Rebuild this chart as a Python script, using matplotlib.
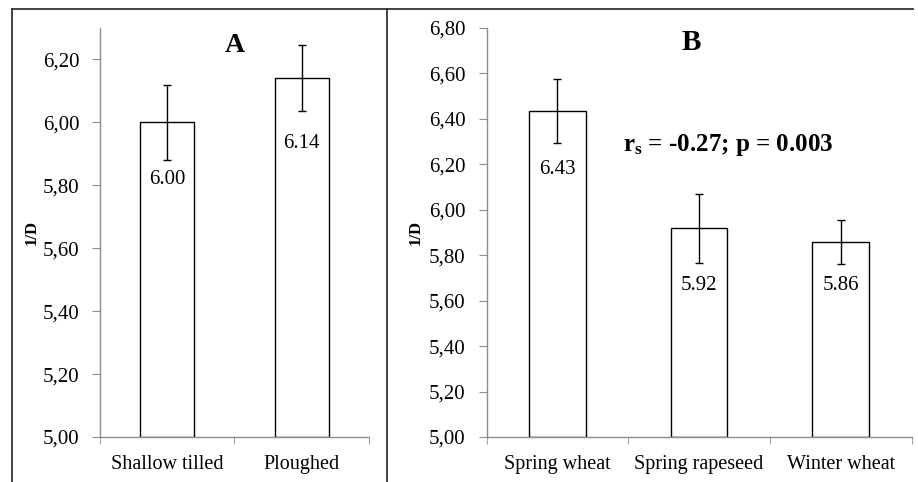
import matplotlib.pyplot as plt
from matplotlib.lines import Line2D

plt.rcParams['font.family'] = ['Liberation Serif', 'DejaVu Serif']
plt.rcParams['mathtext.fontset'] = 'custom'
plt.rcParams['mathtext.rm'] = 'Liberation Serif:bold'

# panel A - tillage
tillage = ["Shallow tilled", "Ploughed"]
tillage_mean = [6.00, 6.14]
tillage_err = [0.12, 0.105]
tillage_labels = ["6.00", "6.14"]

# panel B - crop
crops = ["Spring wheat", "Spring rapeseed", "Winter wheat"]
crop_mean = [6.435, 5.918, 5.858]
crop_err = [0.142, 0.152, 0.097]
crop_labels = ["6.43", "5.92", "5.86"]

yticks_a = [5.0, 5.2, 5.4, 5.6, 5.8, 6.0, 6.2]
yticks_b = [5.0, 5.2, 5.4, 5.6, 5.8, 6.0, 6.2, 6.4, 6.6, 6.8]

GRAY = "#8c8c8c"


def draw_panel(ax, cats, means, errs, labels, yticks, ylim, drops):
    n = len(cats)
    x = list(range(n))
    ax.bar(x, [m - ylim[0] for m in means], bottom=ylim[0], width=0.4,
           color="white", edgecolor="black", linewidth=1.0, zorder=2)
    ax.errorbar(x, means, yerr=errs, fmt="none", ecolor="black",
                elinewidth=1.0, capsize=3, capthick=1.0, zorder=3)
    for xi, m, lab, d in zip(x, means, labels, drops):
        ax.annotate(lab, (xi, m), xytext=(0, -d), textcoords="offset pixels",
                    ha="center", va="center", fontsize=15, zorder=4)
    ax.set_xlim(-0.5, n - 0.5)
    ax.set_ylim(*ylim)
    ax.set_yticks(yticks)
    ax.set_yticklabels([f"{t:.2f}".replace(".", ",") for t in yticks],
                       fontsize=15)
    ax.set_xticks(x)
    ax.set_xticklabels(cats, fontsize=14.5)
    ax.set_xticks([i - 0.5 for i in range(n + 1)], minor=True)
    ax.tick_params(axis="x", which="major", length=0, pad=13)
    ax.tick_params(axis="x", which="minor", length=5, color=GRAY)
    ax.tick_params(axis="y", length=6, color=GRAY, pad=9)
    for s in ("top", "right"):
        ax.spines[s].set_visible(False)
    for s in ("left", "bottom"):
        ax.spines[s].set_color(GRAY)
        ax.spines[s].set_linewidth(1.0)
    ax.set_ylabel("1/D", fontsize=12, fontweight="bold")


fig = plt.figure(figsize=(9.18, 4.82), dpi=100)
fig.patch.set_facecolor("white")

ax_a = fig.add_axes([0.1089, 0.0934, 0.293, 0.8485])
ax_b = fig.add_axes([0.530, 0.0934, 0.463, 0.8485])

draw_panel(ax_a, tillage, tillage_mean, tillage_err, tillage_labels,
           yticks_a, (5.0, 6.30), [57, 65])
draw_panel(ax_b, crops, crop_mean, crop_err, crop_labels,
           yticks_b, (5.0, 6.80), [59, 57, 43])

ax_a.yaxis.set_label_coords(-0.225, 0.5)
ax_b.yaxis.set_label_coords(-0.148, 0.5)

fig.text(235 / 918, 1 - 45 / 482, "A", fontsize=20, fontweight="bold",
         ha="center", va="center")
fig.text(691 / 918, 1 - 43 / 482, "B", fontsize=21, fontweight="bold",
         ha="center", va="center")
fig.text(728 / 918, 1 - 145 / 482, r"$\mathrm{r_s}$ = -0.27; p = 0.003",
         fontsize=18, fontweight="bold", ha="center", va="center")

# outer frame lines
y_top = 1 - 9 / 482
fig.add_artist(Line2D([12 / 918, 913 / 918], [y_top, y_top], color="#333333", lw=1.3))
fig.add_artist(Line2D([12 / 918, 12 / 918], [0, y_top], color="#333333", lw=1.3))
fig.add_artist(Line2D([387 / 918, 387 / 918], [0, y_top], color="#333333", lw=1.3))

fig.savefig("out.png", dpi=100, facecolor="white")
